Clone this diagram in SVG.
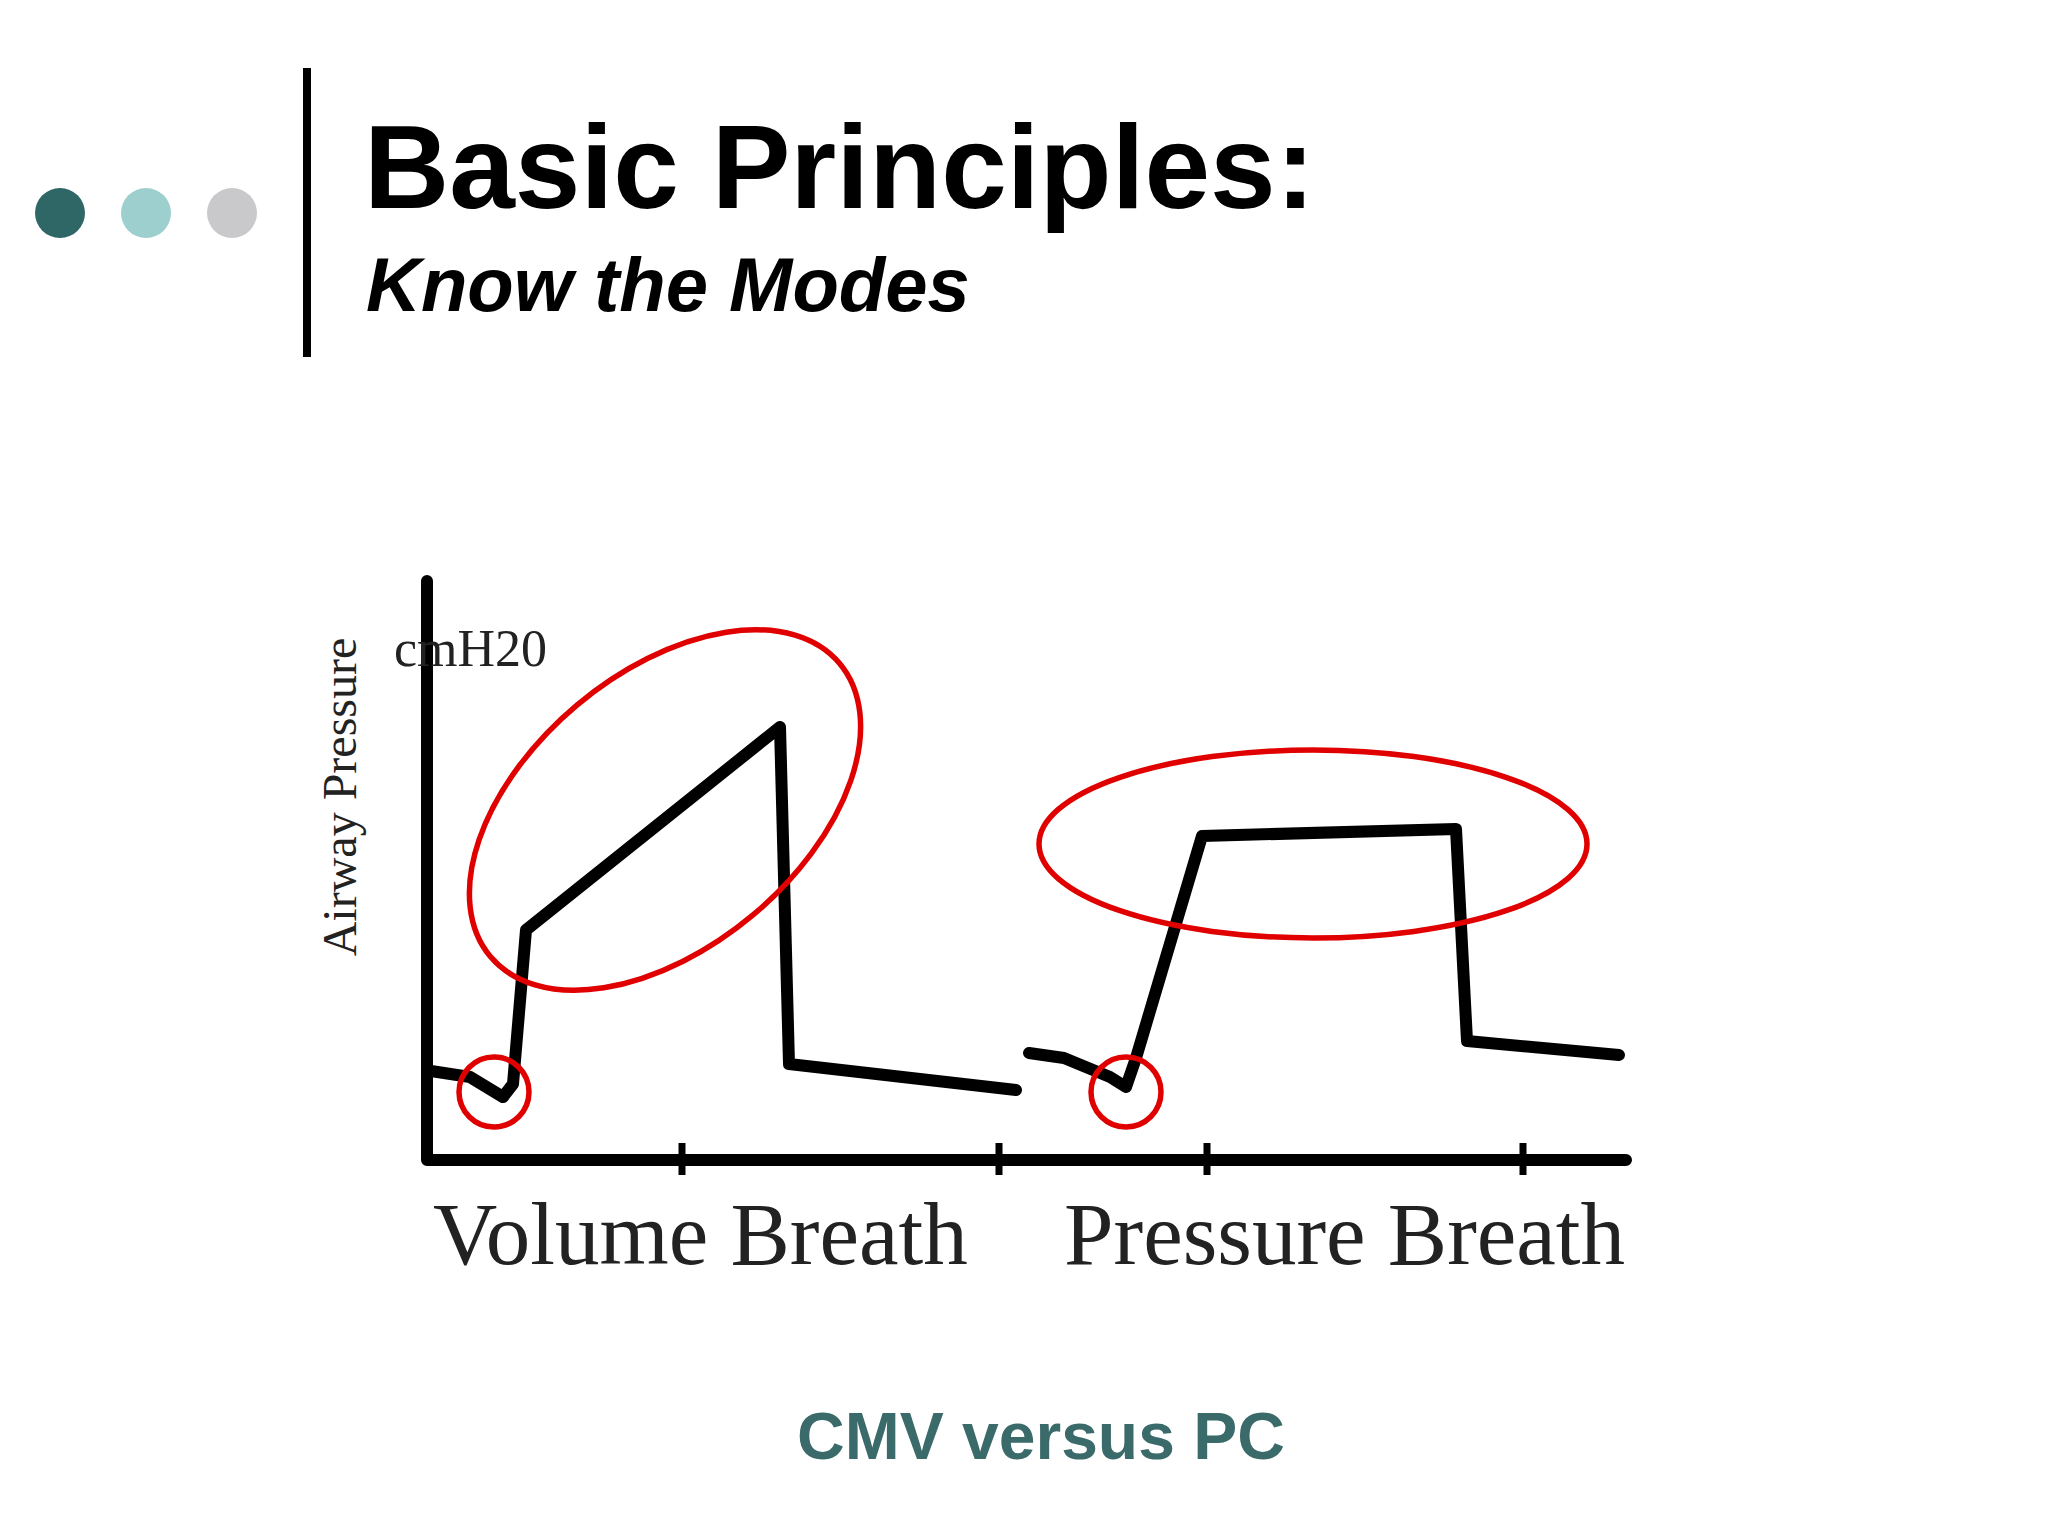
<svg xmlns="http://www.w3.org/2000/svg" width="2048" height="1536" viewBox="0 0 2048 1536">
<style>
.curve{fill:none;stroke:#000;stroke-width:12;stroke-linejoin:round;stroke-linecap:round}
.red{fill:none;stroke:#e00000;stroke-width:5.5}
.serif{font-family:"Liberation Serif",serif;fill:#222}
</style>
<rect width="2048" height="1536" fill="#fff"/>
<g id="header">
<circle cx="60" cy="213" r="25" fill="#2f6666"/>
<circle cx="146" cy="213" r="25" fill="#9ccfcd"/>
<circle cx="232" cy="213" r="25" fill="#c9c9cb"/>
<line x1="307" y1="68" x2="307" y2="357" stroke="#000" stroke-width="8"/>
<text x="364" y="208" font-family="Liberation Sans,sans-serif" font-weight="bold" font-size="118">Basic Principles:</text>
<text x="366" y="311" font-family="Liberation Sans,sans-serif" font-weight="bold" font-style="italic" font-size="76">Know the Modes</text>
</g>
<g id="axes">
<polyline class="curve" points="427,581 427,1160 1626,1160"/>
<path d="M682,1143V1175M999,1143V1175M1207,1143V1175M1523,1143V1175" stroke="#000" stroke-width="7"/>
<text class="serif" x="394" y="666" font-size="52">cmH20</text>
<text class="serif" font-size="48" transform="translate(356,797) rotate(-90)" text-anchor="middle">Airway Pressure</text>
<text class="serif" x="433" y="1264" font-size="89">Volume Breath</text>
<text class="serif" x="1064" y="1264" font-size="89">Pressure Breath</text>
</g>
<g id="connectors">
<polyline class="curve" points="431,1071 470,1077 503,1097 513,1084 526,930 780,727 789,1064 1016,1090"/>
<polyline class="curve" points="1029,1053 1064,1058 1110,1077 1126,1087 1136,1058 1202,836 1456,829 1467,1041 1619,1055"/>
</g>
<g id="highlights">
<ellipse class="red" cx="665" cy="810" rx="228" ry="137" transform="rotate(-40 665 810)"/>
<ellipse class="red" cx="1313" cy="844" rx="274" ry="94"/>
<circle class="red" cx="494" cy="1092" r="35"/>
<circle class="red" cx="1126" cy="1092" r="35"/>
</g>
<text x="1041" y="1459" text-anchor="middle" font-family="Liberation Sans,sans-serif" font-weight="bold" font-size="66" fill="#3a6a69">CMV versus PC</text>
</svg>
